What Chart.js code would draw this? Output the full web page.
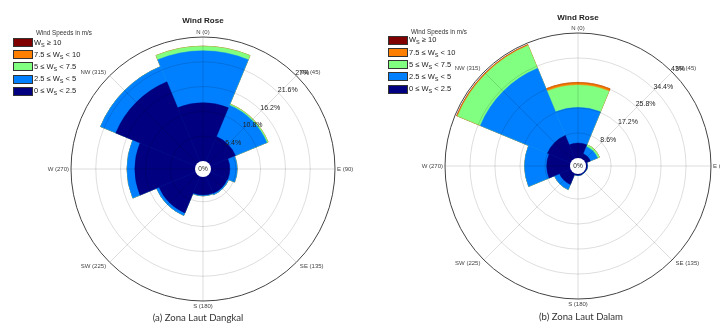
<!DOCTYPE html>
<html>
<head>
<meta charset="utf-8">
<script src="https://cdn.jsdelivr.net/npm/chart.js@4.4.1/dist/chart.umd.min.js"></script>
<style>
  html, body { margin: 0; padding: 0; background: #fff; }
  body { width: 720px; height: 324px; overflow: hidden; position: relative;
         font-family: "Liberation Sans", Arial, sans-serif; }
  .panel { position: absolute; top: 0; height: 324px; }
  .panel canvas { position: absolute; left: 0; top: 0; }
  .title { position: absolute; font-weight: bold; font-size: 8px; color: #222;
           transform: translate(-50%, -50%); white-space: nowrap; }
  .lg-title { position: absolute; font-size: 6.3px; color: #333; white-space: nowrap;
              transform: translate(-50%, -50%); }
  .lg-row { position: absolute; height: 10px; display: flex; align-items: center;
            white-space: nowrap; font-size: 7.5px; color: #222; transform: translateY(-50%); }
  .lg-row sub { font-size: 5.5px; vertical-align: -1.5px; }
  .sw { width: 18px; height: 7px; border: 0.8px solid #333; margin-right: 1px; box-sizing: content-box; }
  .caption { position: absolute; font-family: Lato, "Open Sans", sans-serif; font-size: 9.6px; color: #333;
             transform: translateX(-50%); white-space: nowrap; }
</style>
</head>
<body>
<div class="panel" id="panelA" style="left:0;width:360px;">
  <canvas id="roseA" width="360" height="324"></canvas>
  <div class="title" style="left:203px;top:20px;">Wind Rose</div>
  <div id="legendA"></div>
  <div class="caption" style="left:198px;top:312px;">(a) Zona Laut Dangkal</div>
</div>
<div class="panel" id="panelB" style="left:375px;width:345px;">
  <canvas id="roseB" width="345" height="324"></canvas>
  <div class="title" style="left:203px;top:17px;">Wind Rose</div>
  <div id="legendB"></div>
  <div class="caption" style="left:206px;top:311px;">(b) Zona Laut Dalam</div>
</div>
<script>
// Compass sectors (45° wide, centred on each direction)
const directions = ['N (0)', 'NE (45)', 'E (90)', 'SE (135)', 'S (180)', 'SW (225)', 'W (270)', 'NW (315)'];
const directionAngles = [0, 45, 90, 135, 180, 225, 270, 315];

// Speed classes, lowest first
const speedBinText = [['0 ≤ ', ' < 2.5'], ['2.5 ≤ ', ' < 5'], ['5 ≤ ', ' < 7.5'], ['7.5 ≤ ', ' < 10'], ['', ' ≥ 10']];
const binColors = ['#000080', '#0080ff', '#80ff80', '#ff8000', '#800000'];

// (a) Zona Laut Dangkal — frequency (%) per direction and speed class
const dangkalWs0to2_5  = [12.7, 5.9, 4.1, 4.0, 3.9, 8.6, 13.1, 18.8];
const dangkalWs2_5to5  = [11.3, 7.4, 1.6, 0.3, 0.2, 0.6, 1.7, 3.6];
const dangkalWs5to7_5  = [1.0, 0.3, 0, 0, 0, 0, 0, 0];
const dangkalWs7_5to10 = [0, 0, 0, 0, 0, 0, 0, 0];
const dangkalWsAbove10 = [0, 0, 0, 0, 0, 0, 0, 0];
const dangkalTicks = [5.4, 10.8, 16.2, 21.6, 27];

// (b) Zona Laut Dalam — frequency (%) per direction and speed class
const dalamWs0to2_5  = [5.1, 1.8, 0.4, 0.3, 0.4, 4.1, 8.0, 8.6];
const dalamWs2_5to5  = [12.3, 2.7, 0.1, 0.1, 0.1, 1.9, 7.6, 25.0];
const dalamWs5to7_5  = [7.7, 0.7, 0, 0, 0, 0, 0, 8.5];
const dalamWs7_5to10 = [0.9, 0, 0, 0, 0, 0, 0, 0.3];
const dalamWsAbove10 = [0, 0, 0, 0, 0, 0, 0, 0.1];
const dalamTicks = [8.6, 17.2, 25.8, 34.4, 43];

const FONT = '"Liberation Sans", Arial, sans-serif';

// Compass grid lines, direction labels, percentage labels and the 0% hub
const roseDecor = {
  id: 'roseDecor',
  afterDraw(chart, args, opts) {
    const s = chart.scales.r;
    const ctx = chart.ctx;
    const cx = s.xCenter, cy = s.yCenter;
    const R = s.getDistanceFromCenterForValue(s.max);
    const r0 = s.getDistanceFromCenterForValue(0);
    const pt = (deg, r) => [cx + r * Math.sin(deg * Math.PI / 180), cy - r * Math.cos(deg * Math.PI / 180)];
    ctx.save();

    // radial lines
    ctx.strokeStyle = 'rgba(0,0,0,0.17)';
    ctx.lineWidth = 0.8;
    directionAngles.forEach(a => {
      const [x1, y1] = pt(a, r0);
      const [x2, y2] = pt(a, R);
      ctx.beginPath(); ctx.moveTo(x1, y1); ctx.lineTo(x2, y2); ctx.stroke();
    });

    // hub
    ctx.fillStyle = '#fff';
    ctx.beginPath(); ctx.arc(cx, cy, r0, 0, Math.PI * 2); ctx.fill();
    ctx.fillStyle = '#222';
    ctx.font = '6.5px ' + FONT;
    ctx.textAlign = 'center'; ctx.textBaseline = 'middle';
    ctx.fillText('0%', cx, cy + 0.5);

    // direction labels
    ctx.font = '6px ' + FONT;
    ctx.fillStyle = '#444';
    directions.forEach((lab, i) => {
      const a = directionAngles[i];
      if (a === 0) {
        ctx.textAlign = 'center'; ctx.textBaseline = 'bottom';
        ctx.fillText(lab, cx, cy - R - 2);
      } else if (a === 180) {
        ctx.textAlign = 'center'; ctx.textBaseline = 'top';
        ctx.fillText(lab, cx, cy + R + 2);
      } else {
        const off = a % 90 === 0 ? 2 : 5;
        const [x, y] = pt(a, R + off);
        ctx.textAlign = a < 180 ? 'left' : 'right';
        ctx.textBaseline = 'middle';
        ctx.fillText(lab, x, y);
      }
    });

    // percentage labels along the NE line
    ctx.font = '7px ' + FONT;
    ctx.fillStyle = '#222';
    ctx.textAlign = 'left'; ctx.textBaseline = 'middle';
    opts.ticks.forEach(v => {
      const [x, y] = pt(45, s.getDistanceFromCenterForValue(v));
      ctx.fillText(v + '%', x - 1, y - 3);
    });
    ctx.restore();
  }
};

function makeRose(canvasId, bins, ticks, padding) {
  const max = ticks[ticks.length - 1];
  const min = -max * 8 / 124;           // leaves room for the 0% hub
  // stacked classes are drawn as cumulative wedges, smallest on top
  let running = directions.map(() => 0);
  const datasets = bins.map((b, k) => {
    running = running.map((v, i) => +(v + b[i]).toFixed(3));
    return {
      label: speedBinText[k].join('Ws'),
      data: running.slice(),
      backgroundColor: binColors[k],
      borderColor: binColors[k],
      borderWidth: 0.5
    };
  });
  return new Chart(document.getElementById(canvasId), {
    type: 'polarArea',
    data: { labels: directions, datasets },
    options: {
      responsive: false,
      animation: false,
      devicePixelRatio: 1,
      layout: { padding },
      plugins: { legend: { display: false }, tooltip: { enabled: false }, roseDecor: { ticks } },
      scales: {
        r: {
          min, max,
          startAngle: -22.5,
          ticks: { display: false, stepSize: ticks[0] },
          afterBuildTicks: (scale) => { scale.ticks = [0, ...ticks].map(v => ({ value: v })); },
          grid: {
            z: 1,
            circular: true,
            color: (c) => c.index === 0 ? 'rgba(0,0,0,0)' : (c.index === ticks.length ? '#444' : 'rgba(0,0,0,0.17)'),
            lineWidth: (c) => c.index === ticks.length ? 1 : 0.8
          },
          angleLines: { display: false },
          pointLabels: { display: false }
        }
      }
    },
    plugins: [roseDecor]
  });
}

function makeLegend(id, x, yTitle, rows) {
  const box = document.getElementById(id);
  const t = document.createElement('div');
  t.className = 'lg-title';
  t.style.left = (x + 51) + 'px';
  t.style.top = yTitle + 'px';
  t.textContent = 'Wind Speeds in m/s';
  box.appendChild(t);
  for (let k = binColors.length - 1; k >= 0; k--) {
    const row = document.createElement('div');
    row.className = 'lg-row';
    row.style.left = x + 'px';
    row.style.top = rows[binColors.length - 1 - k] + 'px';
    const sw = document.createElement('div');
    sw.className = 'sw';
    sw.style.background = binColors[k];
    row.appendChild(sw);
    const span = document.createElement('span');
    span.innerHTML = speedBinText[k][0] + 'W<sub>S</sub>' + speedBinText[k][1];
    row.appendChild(span);
    box.appendChild(row);
  }
}

makeRose('roseA',
  [dangkalWs0to2_5, dangkalWs2_5to5, dangkalWs5to7_5, dangkalWs7_5to10, dangkalWsAbove10],
  dangkalTicks, { left: 71, top: 37, right: 25, bottom: 23 });
makeRose('roseB',
  [dalamWs0to2_5, dalamWs2_5to5, dalamWs5to7_5, dalamWs7_5to10, dalamWsAbove10],
  dalamTicks, { left: 70, top: 33, right: 9, bottom: 25 });

makeLegend('legendA', 13, 32, [42.5, 54.5, 66.7, 79, 91]);
makeLegend('legendB', 13, 31, [40, 52.3, 64.3, 76.7, 89.2]);
</script>
</body>
</html>
